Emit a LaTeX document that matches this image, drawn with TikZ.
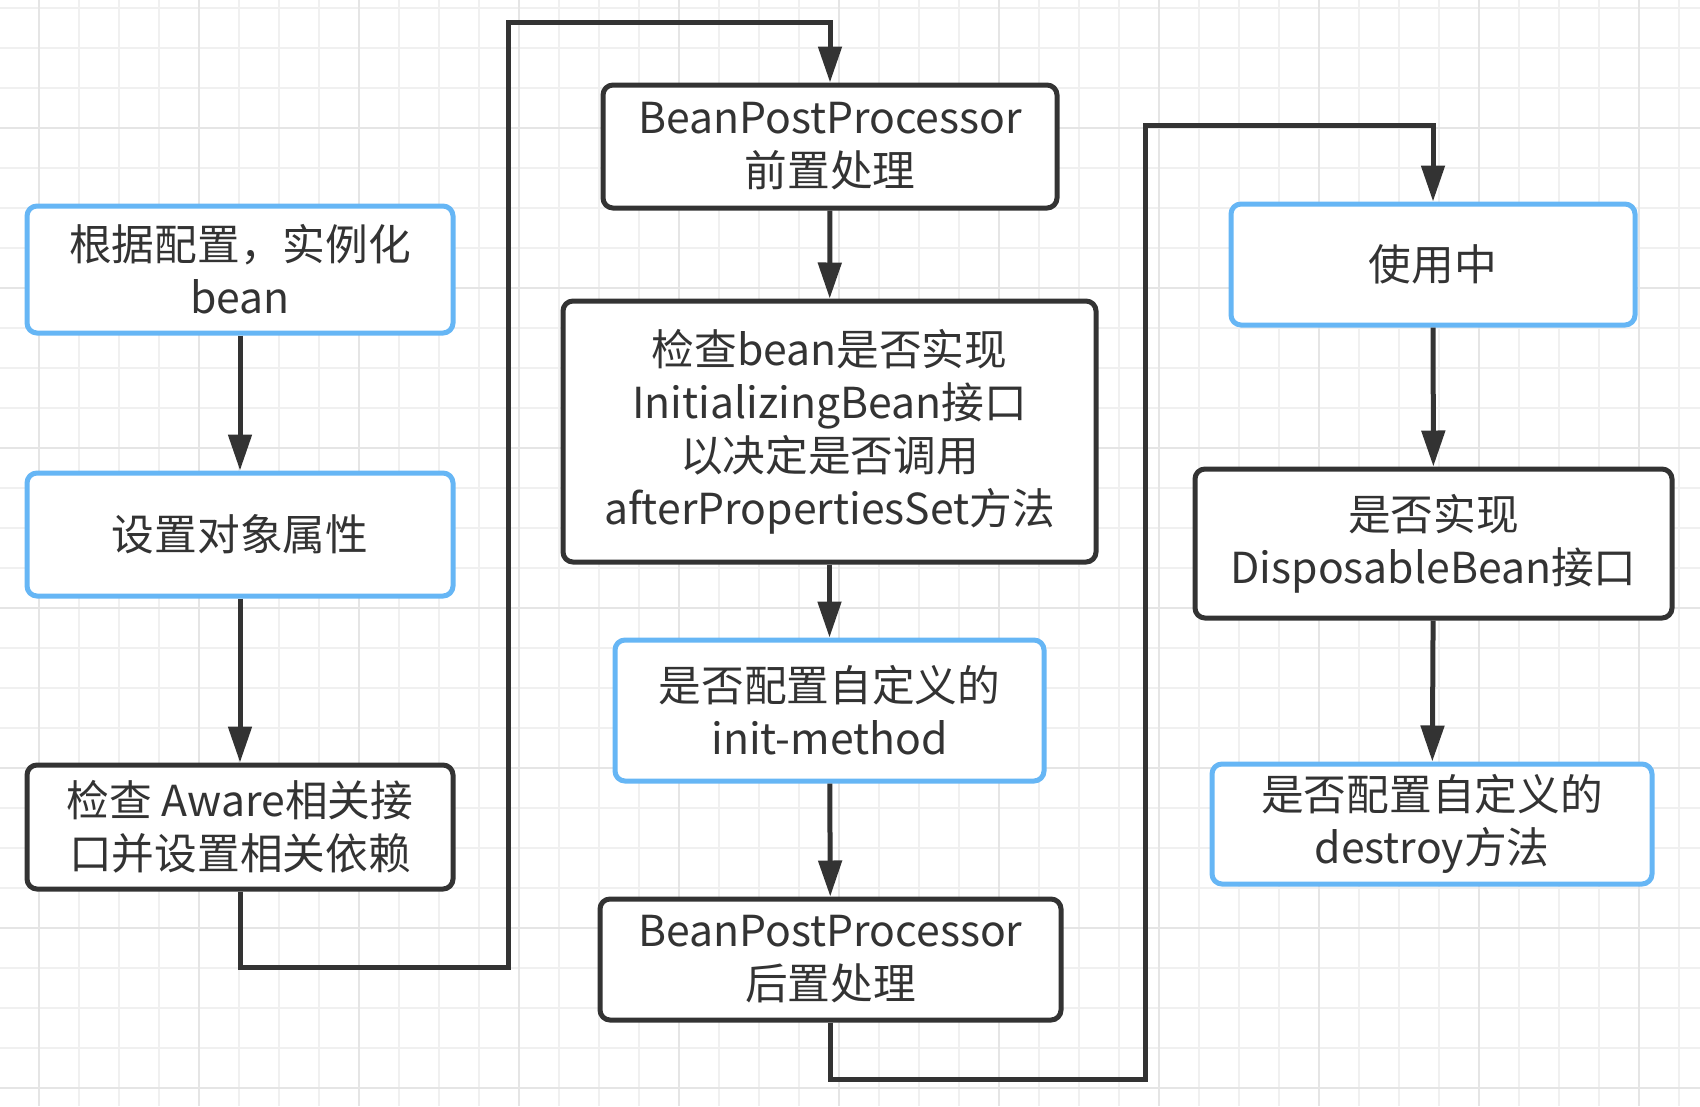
\documentclass[tikz,border=0pt]{standalone}
\usepackage{fontspec}
\setmainfont{Noto Sans CJK SC}
\usetikzlibrary{arrows.meta}
\definecolor{ink}{RGB}{51,51,51}
\definecolor{bblue}{RGB}{102,182,245}
\definecolor{gridminor}{RGB}{240,240,240}
\definecolor{gridmajor}{RGB}{229,229,229}
\tikzset{
  box/.style={draw=ink, line width=5pt, rounded corners=10pt, fill=white,
    align=center, text=ink, inner sep=0pt,
    font=\fontsize{42.7}{53}\selectfont},
  bluebox/.style={box, draw=bblue},
  link/.style={draw=ink, line width=5pt, -{Triangle[length=36pt,width=23pt]}},
  gline/.style={draw=gridminor, line width=2pt},
  gmajor/.style={draw=gridmajor, line width=2pt},
}
\begin{document}
\begin{tikzpicture}[x=1pt,y=-1pt]
\useasboundingbox (0,0) rectangle (1700,1106);
\fill[white] (0,0) rectangle (1700,1106);
% grid
\foreach \i in {0,...,41} {\draw[gline] ({39.3+40*\i},0) -- ({39.3+40*\i},1106);}
\foreach \i in {0,...,27} {\draw[gline] (0,{8.3+40*\i}) -- (1700,{8.3+40*\i});}
\foreach \i in {0,...,10} {\draw[gmajor] ({39.3+160*\i},0) -- ({39.3+160*\i},1106);}
\foreach \i in {0,...,6} {\draw[gmajor] (0,{128.3+160*\i}) -- (1700,{128.3+160*\i});}
% column 1
\node[bluebox, minimum width=426pt, minimum height=127pt] (A) at (240,269.5) {根据配置，实例化\\bean};
\node[bluebox, minimum width=426pt, minimum height=123pt] (B) at (240,534.5) {设置对象属性};
\node[box, minimum width=426pt, minimum height=124pt] (C) at (240,827) {检查 Aware相关接\\口并设置相关依赖};
% column 2
\node[box, minimum width=454pt, minimum height=123pt] (D) at (830,146.5) {BeanPostProcessor\\前置处理};
\node[box, minimum width=533pt, minimum height=261pt] (E) at (829.5,431.5) {检查bean是否实现\\InitializingBean接口\\以决定是否调用\\afterPropertiesSet方法};
\node[bluebox, minimum width=429pt, minimum height=141pt] (F) at (829.5,710.5) {是否配置自定义的\\init-method};
\node[box, minimum width=461pt, minimum height=121pt] (G) at (830.5,959.5) {BeanPostProcessor\\后置处理};
% column 3
\node[bluebox, minimum width=404pt, minimum height=121pt] (H) at (1433,264.5) {使用中};
\node[box, minimum width=477pt, minimum height=149pt] (I) at (1433.5,543.5) {是否实现\\DisposableBean接口};
\node[bluebox, minimum width=440pt, minimum height=120pt] (J) at (1432,824) {是否配置自定义的\\destroy方法};
% route corners
\coordinate (r1) at (508,967);
\coordinate (r2) at (508,22);
\coordinate (r3) at (1145,1079);
\coordinate (r4) at (1145,125);
% connectors
\draw[link] (A) -- (B);
\draw[link] (B) -- (C);
\draw[link] (C.south) |- (r1) -- (r2) -| (D.north);
\draw[link] (D) -- (E);
\draw[link] (E) -- (F);
\draw[link] (F) -- (G);
\draw[link] (G.south) |- (r3) -- (r4) -| (H.north);
\draw[link] (H) -- (I);
\draw[link] (I) -- (J);
\end{tikzpicture}
\end{document}
